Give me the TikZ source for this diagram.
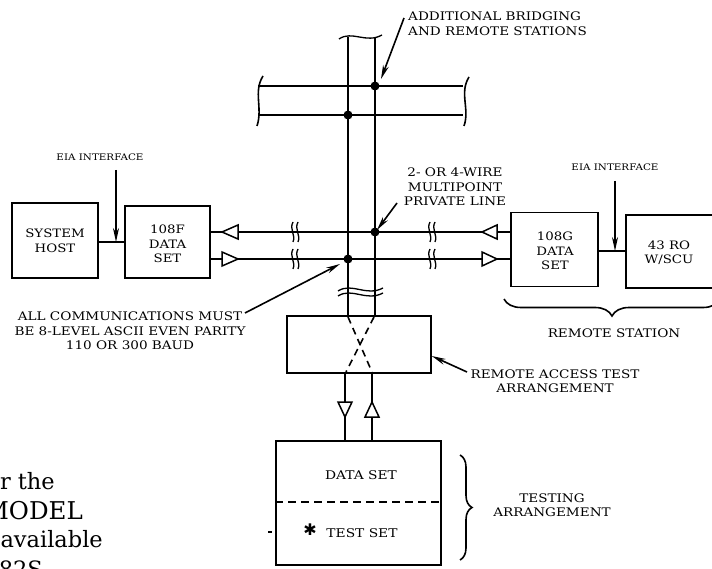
\documentclass[tikz,border=0pt]{standalone}
\usepackage{fontspec}
\setmainfont{DejaVu Serif}
\newfontfamily\wf[FakeStretch=1.15]{DejaVu Serif}
\newfontfamily\symf{DejaVu Sans}
\usetikzlibrary{arrows.meta,decorations.pathreplacing}
\begin{document}
\begin{tikzpicture}[x=1pt,y=-1pt,
  ln/.style={line width=1.6pt},
  box/.style={draw,line width=1.6pt,inner sep=0pt},
  boxtxt/.style={font=\wf\fontsize{11.6}{14.5}\selectfont,align=center,inner sep=0pt},
  lbl/.style={font=\wf\fontsize{11.8}{14.5}\selectfont,align=center,inner sep=0pt},
  sml/.style={font=\wf\fontsize{9}{11}\selectfont,inner sep=0pt},
  big/.style={font=\fontsize{22.5}{26}\selectfont,inner sep=0pt},
  arr/.style={line width=1.6pt,-{Stealth[length=14pt,width=6pt]}},
  dot/.style={circle,fill,inner sep=0pt,minimum size=9pt},
  tri/.style={line width=1.5pt,fill=white,line join=miter},
  brk/.style={line width=1.3pt}
]
\useasboundingbox (0,0) rectangle (712,569);
\clip (0,0) rectangle (712,569);

% ---------- boxes ----------
\node[box,minimum width=86pt,minimum height=75pt] (host) at (55,240.5) {};
\node[boxtxt] (hostt) at (55,241) {SYSTEM\\HOST};
\node[box,minimum width=85pt,minimum height=72pt] (f108) at (167.5,242) {};
\node[boxtxt] (f108t) at (167.5,244) {108F\\DATA\\SET};
\node[box,minimum width=87pt,minimum height=74pt] (g108) at (554.5,249.5) {};
\node[boxtxt] (g108t) at (555,251) {108G\\DATA\\SET};
\node[box,minimum width=130pt,minimum height=73pt] (ro43) at (691,251.5) {};
\node[boxtxt] (ro43t) at (669,252.5) {43 RO\\W/SCU};
\node[box,minimum width=144pt,minimum height=57pt] (rat) at (359,344.5) {};
\node[box,minimum width=165pt,minimum height=124pt] (tst) at (358.5,503) {};
\node[boxtxt,font=\wf\fontsize{12}{14}\selectfont] (tstd) at (361,475) {DATA SET};
\node[boxtxt,font=\wf\fontsize{12}{14}\selectfont] (tstt) at (362,533) {TEST SET};
\node[inner sep=0pt,font=\symf\fontsize{16}{16}\selectfont] (star) at (310,530) {✱};
\draw[ln,dashed,dash pattern=on 8pt off 5pt] (tst.west |- 0,502) -- (tst.east |- 0,502);
\coordinate (stray) at (270,532);
\draw[line width=1.2pt] (stray) ++(-2,0) -- ++(4,0);

% ---------- coordinates ----------
\coordinate (bL1) at (258,86);  \coordinate (bR1) at (463,86);
\coordinate (bL2) at (258,115); \coordinate (bR2) at (463,115);
\coordinate (vTL) at (348,37);  \coordinate (vTR) at (375,37);
\coordinate (j1) at (375,232);  \coordinate (j2) at (348,259);
\coordinate (u1) at (375,86);   \coordinate (u2) at (348,115);
\coordinate (qL) at (345,400);  \coordinate (qR) at (372,400);
\coordinate (eL) at (116,242);  \coordinate (eR) at (615,251);

% ---------- upper bus ----------
\draw[ln] (bL1) -- (bR1);
\draw[ln] (bL2) -- (bR2);
\draw[ln] (263,76) .. controls (253,92) and (263,108) .. (257,126);
\draw[ln] (469,77) .. controls (459,93) and (470,109) .. (464,126);

% ---------- verticals ----------
\draw[ln] (vTL) -- (vTL |- rat.north);
\draw[ln] (vTR) -- (vTR |- rat.north);
\draw[brk] (339,39) .. controls (352,30) and (366,44) .. (382,35);
% break on verticals
\draw[brk] (338,291) .. controls (352,282) and (366,297) .. (383,288);
\draw[brk] (338,296) .. controls (352,287) and (366,302) .. (383,293);

% ---------- lower bus ----------
\draw[ln] (f108.east |- j1) -- (g108.west |- j1);
\draw[ln] (f108.east |- j2) -- (g108.west |- j2);
% breaks
\foreach \bx in {294,431}{
  \foreach \by in {232,259}{
    \draw[brk] (\bx-1,\by-10) .. controls (\bx-5,\by-3) and (\bx+2,\by+3) .. (\bx-1,\by+10);
    \draw[brk] (\bx+4,\by-10) .. controls (\bx,\by-3) and (\bx+7,\by+3) .. (\bx+4,\by+10);
  }
}
% triangles
\draw[tri] (222,232) -- (238,225) -- (238,239) -- cycle;
\draw[tri] (238,259) -- (222,252) -- (222,266) -- cycle;
\draw[tri] (482,232) -- (497,225) -- (497,239) -- cycle;
\draw[tri] (497,259) -- (482,252) -- (482,266) -- cycle;

% dots
\node[dot] (d1) at (u1) {};
\node[dot] (d2) at (u2) {};
\node[dot] (d3) at (j1) {};
\node[dot] (d4) at (j2) {};

% ---------- host / 108F, 108G / 43RO ----------
\draw[ln] (host.east |- eL) -- (f108.west |- eL);
\draw[ln] (g108.east |- eR) -- (ro43.west |- eR);

% ---------- remote access test ----------
\draw[ln,dashed,dash pattern=on 7pt off 5pt] (348,317) -- (372,372);
\draw[ln,dashed,dash pattern=on 7pt off 5pt] (374,317) -- (346,372);
\draw[ln] (qL |- rat.south) -- (qL |- tst.north);
\draw[ln] (qR |- rat.south) -- (qR |- tst.north);
\draw[tri] (345,417) -- (338,402) -- (352,402) -- cycle;
\draw[tri] (372,402) -- (365,417) -- (379,417) -- cycle;

% ---------- braces ----------
\draw[ln,decorate,decoration={brace,amplitude=17pt,mirror}] (504,299) -- (720,299);
\draw[ln,decorate,decoration={brace,amplitude=12pt}] (460,455) -- (460,560);

% ---------- labels ----------
\node[lbl,align=left,anchor=west] (addl) at (408,23.5) {ADDITIONAL BRIDGING\\AND REMOTE STATIONS};
\draw[arr] (404,18) -- (381,79);
\node[sml] (eiaL) at (100,157) {EIA INTERFACE};
\draw[arr] (116,170) -- (eL);
\node[sml] (eiaR) at (615,167) {EIA INTERFACE};
\draw[arr] (615,181) -- (eR);
\node[lbl] (wire) at (455,187) {2- OR 4-WIRE\\MULTIPOINT\\PRIVATE LINE};
\draw[arr] (397,203) -- (377,230);
\node[lbl] (allc) at (130,331) {ALL COMMUNICATIONS MUST\\BE 8-LEVEL ASCII EVEN PARITY\\110 OR 300 BAUD};
\draw[arr] (245,313) -- (340,264);
\node[lbl] (rst) at (614,333) {REMOTE STATION};
\node[lbl] (ratl) at (555,381) {REMOTE ACCESS TEST\\ARRANGEMENT};
\draw[arr] (467,372) -- (rat.east |- 0,356);
\node[lbl] (tstl) at (552,505) {TESTING\\ARRANGEMENT};

% ---------- cut-off page text ----------
\node[big,anchor=base east] (p1) at (55,489) {r the};
\node[big,anchor=base east,font=\fontsize{24.5}{26}\selectfont] (p2) at (83,519) {MODEL};
\node[big,anchor=base east] (p3) at (103,547) {available};
\node[big,anchor=base east] (p4) at (43,577) {82S};
\end{tikzpicture}
\end{document}
